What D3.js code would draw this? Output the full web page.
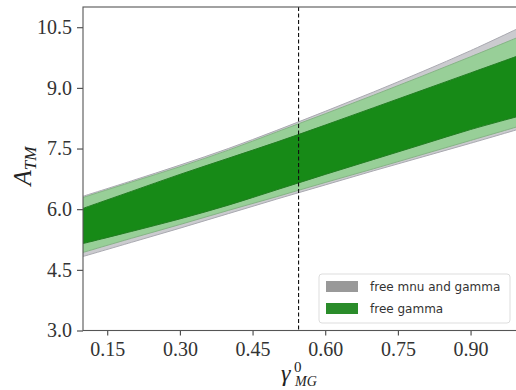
<!DOCTYPE html>
<html>
<head>
<meta charset="utf-8">
<script src="https://cdn.jsdelivr.net/npm/d3@7"></script>
<style>
  html, body { margin: 0; padding: 0; background: #fff; }
  svg { display: block; }
  .tick text { font-family: "Liberation Serif", "DejaVu Serif", serif; font-size: 20px; fill: #333; }
</style>
</head>
<body>
<svg id="chart" width="516" height="390"></svg>
<script>
// gamma_MG^0 grid
const gamma = [0.1, 0.2, 0.3, 0.4, 0.5, 0.6, 0.7, 0.8, 0.9, 1.0];

// free mnu and gamma: outer band
const mnuLow  = [4.83, 5.18, 5.53, 5.89, 6.25, 6.60, 6.95, 7.29, 7.63, 7.98];
const mnuHigh = [6.32, 6.70, 7.09, 7.50, 7.95, 8.42, 8.90, 9.40, 9.92, 10.48];

// free gamma: 2 sigma band
const g2Low  = [4.93, 5.28, 5.62, 5.97, 6.31, 6.66, 7.00, 7.35, 7.70, 8.05];
const g2High = [6.29, 6.67, 7.05, 7.46, 7.91, 8.36, 8.82, 9.29, 9.77, 10.26];

// free gamma: 1 sigma band
const g1Low  = [5.15, 5.45, 5.76, 6.10, 6.48, 6.86, 7.23, 7.60, 7.97, 8.30];
const g1High = [6.02, 6.44, 6.86, 7.26, 7.66, 8.08, 8.51, 8.94, 9.37, 9.80];

// reference gamma value (dashed marker)
const gammaRef = 0.545;

const xTicks = [0.15, 0.30, 0.45, 0.60, 0.75, 0.90];
const yTicks = [3.0, 4.5, 6.0, 7.5, 9.0, 10.5];
const legendLabels = ["free mnu and gamma", "free gamma"];

const svg = d3.select("#chart");
const m = { left: 83, right: -3, top: 7, bottom: 59.5 };
const W = 516, H = 390;

const x = d3.scaleLinear().domain([0.1, 1.0]).range([m.left, W - m.right]);
const y = d3.scaleLinear().domain([3, 11]).range([H - m.bottom, m.top]);

svg.append("defs").append("clipPath").attr("id", "plotclip")
  .append("rect").attr("x", x(0.1)).attr("y", y(11))
  .attr("width", x(1.0) - x(0.1)).attr("height", y(3) - y(11));

const plot = svg.append("g").attr("clip-path", "url(#plotclip)");

function band(lo, hi) {
  return gamma.map((g, i) => ({ g, lo: lo[i], hi: hi[i] }));
}
const area = d3.area().x(d => x(d.g)).y0(d => y(d.lo)).y1(d => y(d.hi))
  .curve(d3.curveCatmullRom);
const edge = key => d3.line().x(d => x(d.g)).y(d => y(d[key])).curve(d3.curveCatmullRom);

function drawBand(data, fill, stroke) {
  plot.append("path").datum(data).attr("d", area).attr("fill", fill);
  ["lo", "hi"].forEach(k => plot.append("path").datum(data).attr("d", edge(k))
    .attr("fill", "none").attr("stroke", stroke).attr("stroke-width", 1));
}

drawBand(band(mnuLow, mnuHigh), "#cbcbcf", "#a9a9b0");
drawBand(band(g2Low, g2High), "#98cf98", "#86b486");
drawBand(band(g1Low, g1High), "#178a17", "#237d23");

// dashed reference line
plot.append("line")
  .attr("x1", x(gammaRef)).attr("x2", x(gammaRef))
  .attr("y1", y(11)).attr("y2", y(3))
  .attr("stroke", "#111").attr("stroke-width", 1.1)
  .attr("stroke-dasharray", "4,2.5");

// axes
const xAxis = d3.axisBottom(x).tickValues(xTicks).tickFormat(d3.format(".2f"))
  .tickSize(5).tickPadding(6);
const yAxis = d3.axisLeft(y).tickValues(yTicks).tickFormat(d3.format(".1f"))
  .tickSize(6).tickPadding(5);

const gx = svg.append("g").attr("transform", `translate(0,${y(3)})`).call(xAxis);
const gy = svg.append("g").attr("transform", `translate(${x(0.1)},0)`).call(yAxis);
[gx, gy].forEach(g => {
  g.select(".domain").remove();
  g.selectAll(".tick line").attr("stroke", "#444").attr("stroke-width", 1.1);
});

// frame
svg.append("rect")
  .attr("x", x(0.1)).attr("y", y(11))
  .attr("width", x(1.0) - x(0.1)).attr("height", y(3) - y(11))
  .attr("fill", "none").attr("stroke", "#555").attr("stroke-width", 1.1);

// axis labels
const serif = "'Liberation Serif', serif";
const ylab = svg.append("text")
  .attr("transform", `translate(31,166) rotate(-90)`)
  .attr("text-anchor", "middle")
  .style("font-family", serif).style("font-size", "25px")
  .attr("fill", "#222");
ylab.append("tspan").style("font-style", "italic").text("A");
ylab.append("tspan").style("font-style", "italic").style("font-size", "17px")
  .attr("dy", 5).text("TM");

// gamma with superscript 0 and subscript MG, set as separate pieces
svg.append("text").attr("x", 281).attr("y", 381)
  .style("font-family", serif).style("font-style", "italic").style("font-size", "24px")
  .attr("fill", "#222").text("γ");
svg.append("text").attr("x", 294).attr("y", 372)
  .style("font-family", serif).style("font-size", "15px")
  .attr("fill", "#222").text("0");
svg.append("text").attr("x", 295).attr("y", 386)
  .style("font-family", serif).style("font-style", "italic").style("font-size", "14px")
  .attr("fill", "#222").text("MG");

// legend
const lg = svg.append("g").attr("transform", "translate(319,274)");
lg.append("rect").attr("width", 191).attr("height", 49).attr("rx", 3)
  .attr("fill", "#fff").attr("fill-opacity", 0.85)
  .attr("stroke", "#ddd").attr("stroke-width", 1);
const swatch = ["#999999", "#2a8c2a"];
legendLabels.forEach((t, i) => {
  lg.append("rect").attr("x", 7).attr("y", 7 + i * 22).attr("width", 32).attr("height", 11)
    .attr("fill", swatch[i]);
  lg.append("text").attr("x", 51).attr("y", 17 + i * 22)
    .style("font-family", "'DejaVu Sans', sans-serif").style("font-size", "12px")
    .attr("fill", "#333").text(t);
});
</script>
</body>
</html>
